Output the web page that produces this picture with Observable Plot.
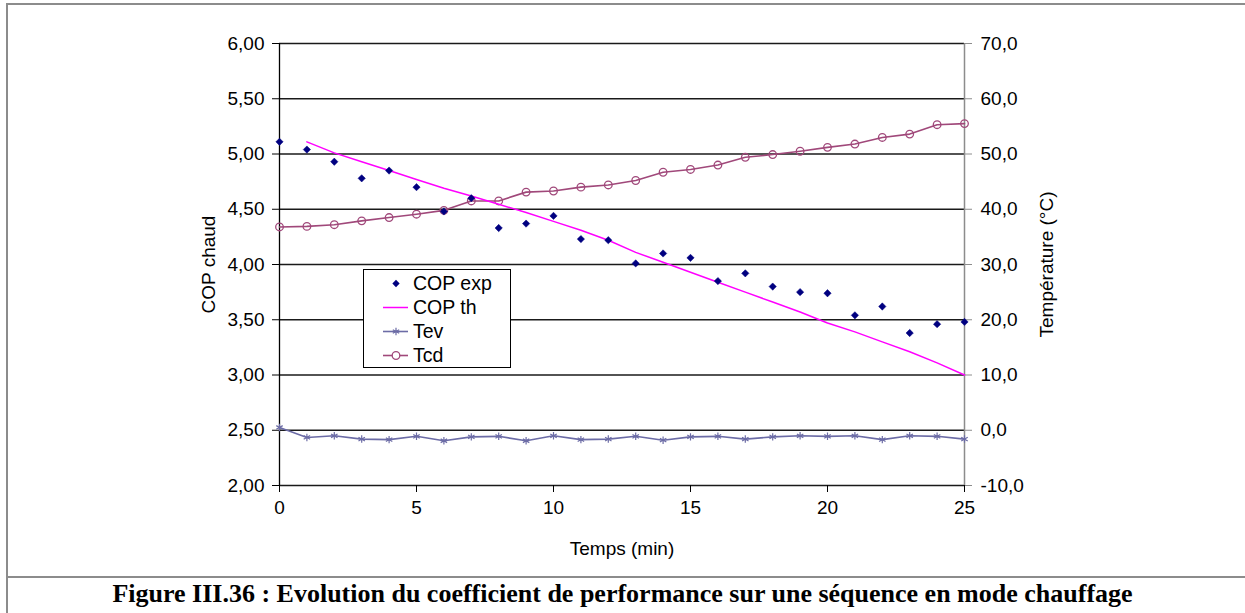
<!DOCTYPE html>
<html><head><meta charset="utf-8">
<script src="https://cdn.jsdelivr.net/npm/d3@7"></script>
<script src="https://cdn.jsdelivr.net/npm/@observablehq/plot@0.6"></script>
<style>
html,body{margin:0;padding:0;background:#fff;}
body{width:1245px;height:613px;overflow:hidden;position:relative;font-family:"Liberation Sans",Arial,sans-serif;}
#frame{position:absolute;left:6px;top:3px;width:1300px;height:700px;border:2px solid #8c8c8c;box-sizing:border-box;}
#sep{position:absolute;left:6px;top:576px;width:1245px;height:2px;background:#8c8c8c;}
#chart{position:absolute;left:0;top:0;}
#caption{position:absolute;left:0;top:579px;width:1245px;text-align:center;font-family:"Liberation Serif","Times New Roman",serif;font-weight:bold;font-size:26px;line-height:30px;white-space:nowrap;}
#legend{position:absolute;left:363px;top:269px;}
</style></head><body>
<div id="frame"></div>
<div id="chart"></div>
<div id="sep"></div>
<div id="caption">Figure III.36 : Evolution du coefficient de performance sur une séquence en mode chauffage</div>
<div id="legend"></div>
<script>
// ---- data ----
const minutes = [0,1,2,3,4,5,6,7,8,9,10,11,12,13,14,15,16,17,18,19,20,21,22,23,24,25];
const copExp = [5.11,5.04,4.93,4.78,4.85,4.70,4.48,4.60,4.33,4.37,4.44,4.23,4.22,4.01,4.10,4.06,3.85,3.92,3.80,3.75,3.74,3.54,3.62,3.38,3.46,3.48];
const minutesTh = [1,2,3,4,5,6,7,8,9,10,11,12,13,14,15,16,17,18,19,20,21,22,23,24,25];
const copTh = [5.11,5.01,4.93,4.85,4.77,4.69,4.62,4.545,4.47,4.39,4.31,4.22,4.11,4.02,3.93,3.84,3.75,3.66,3.57,3.47,3.39,3.30,3.21,3.11,3.00];
const tev = [0.5,-1.3,-1.0,-1.6,-1.7,-1.1,-1.9,-1.2,-1.1,-1.9,-1.0,-1.7,-1.6,-1.1,-1.8,-1.2,-1.1,-1.6,-1.2,-1.0,-1.1,-1.0,-1.7,-1.0,-1.1,-1.6];
const tcd = [36.8,36.9,37.2,37.9,38.5,39.1,39.8,41.5,41.5,43.1,43.3,44.0,44.4,45.2,46.7,47.2,48.0,49.4,49.9,50.5,51.2,51.8,53.0,53.6,55.3,55.5];
const xTicks = [0,5,10,15,20,25];
const copTicks = [2,2.5,3,3.5,4,4.5,5,5.5,6];
const tempTicks = [-10,0,10,20,30,40,50,60,70];
const seriesNames = ["COP exp","COP th","Tev","Tcd"];
const colors = {exp:"#000080", th:"#ff00ff", tev:"#6c6ca6", tcd:"#a0487a"};

// temperature (right axis, -10..70) shares the COP scale (2..6)
const toCop = t => 2 + (t + 10) / 20;
const fmtCop = d => d.toFixed(2).replace(".", ",");
const fmtT = d => ((d - 2) * 20 - 10).toFixed(1).replace(".", ",").replace("-0,0","0,0");

const rows = minutes.map((m, i) => ({m, exp: copExp[i], tev: toCop(tev[i]), tcd: toCop(tcd[i])}));
const thRows = minutesTh.map((m, i) => ({m, th: copTh[i]}));

const chart = Plot.plot({
  width: 1245, height: 578,
  marginLeft: 279, marginRight: 281, marginTop: 43, marginBottom: 93,
  style: {fontFamily: "'Liberation Sans', Arial, sans-serif", fontSize: "19px", color: "#000", background: "transparent", overflow: "visible"},
  x: {domain: [0, 25]},
  y: {domain: [2, 6]},
  marks: [
    Plot.ruleY(copTicks, {stroke: "#1a1a1a", strokeWidth: 1.4}),
    Plot.ruleX([25], {stroke: "#8c8c8c", strokeWidth: 1.5}),
    Plot.ruleX([0], {stroke: "#000", strokeWidth: 1.3}),
    Plot.axisX({ticks: xTicks, tickSize: 7, tickPadding: 8, tickFormat: d => String(d),
      label: "Temps (min)", labelAnchor: "center", labelOffset: 69, labelArrow: "none"}),
    Plot.axisY({anchor: "left", ticks: copTicks, tickSize: 7, tickPadding: 8, tickFormat: fmtCop,
      label: "COP chaud", labelAnchor: "center", labelOffset: 78, labelArrow: "none"}),
    Plot.axisY({anchor: "right", ticks: tempTicks.map(toCop), tickSize: 7, tickPadding: 9, tickFormat: fmtT, stroke: "#8c8c8c",
      label: "Température (°C)", labelAnchor: "center", labelOffset: 88, labelArrow: "none"}),
    Plot.line(rows, {x: "m", y: "tev", stroke: colors.tev, strokeWidth: 1.6}),
    Plot.dot(rows, {x: "m", y: "tev", symbol: "asterisk", r: 3.5, stroke: colors.tev, strokeWidth: 1.2}),
    Plot.line(rows, {x: "m", y: "tcd", stroke: colors.tcd, strokeWidth: 1.6}),
    Plot.dot(rows, {x: "m", y: "tcd", r: 3.8, stroke: colors.tcd, fill: "none", strokeWidth: 1.3}),
    Plot.line(thRows, {x: "m", y: "th", stroke: colors.th, strokeWidth: 1.5}),
    Plot.dot(rows, {x: "m", y: "exp", symbol: "diamond2", r: 3.3, fill: colors.exp, stroke: colors.exp, strokeWidth: 0.5})
  ]
});
document.getElementById("chart").appendChild(chart);

// ---- legend ----
const lw = 148, lh = 99;
const lg = d3.select("#legend").append("svg").attr("width", lw).attr("height", lh)
  .style("font-family", "'Liberation Sans', Arial, sans-serif").style("font-size", "19.5px");
lg.append("rect").attr("x", 0.5).attr("y", 0.5).attr("width", lw - 1).attr("height", lh - 1)
  .attr("fill", "#fff").attr("stroke", "#000").attr("stroke-width", 1);
const rowY = [14.5, 38.5, 62.5, 86.5];
seriesNames.forEach((name, i) => {
  const g = lg.append("g").attr("transform", `translate(0,${rowY[i]})`);
  if (i === 0) {
    g.append("path").attr("d", d3.symbol(d3.symbolDiamond2, 34)()).attr("transform", "translate(33,0)").attr("fill", colors.exp);
  } else if (i === 1) {
    g.append("line").attr("x1", 20).attr("x2", 45).attr("stroke", colors.th).attr("stroke-width", 1.5);
  } else if (i === 2) {
    g.append("line").attr("x1", 20).attr("x2", 45).attr("stroke", colors.tev).attr("stroke-width", 1.6);
    g.append("path").attr("d", d3.symbol(d3.symbolAsterisk, 38)()).attr("transform", "translate(33,0)").attr("stroke", colors.tev).attr("fill", "none").attr("stroke-width", 1.2);
  } else {
    g.append("line").attr("x1", 20).attr("x2", 45).attr("stroke", colors.tcd).attr("stroke-width", 1.6);
    g.append("circle").attr("cx", 33).attr("r", 3.8).attr("fill", "#fff").attr("stroke", colors.tcd).attr("stroke-width", 1.3);
  }
  g.append("text").attr("x", 50).attr("dy", "0.35em").text(name);
});
</script>
</body></html>
